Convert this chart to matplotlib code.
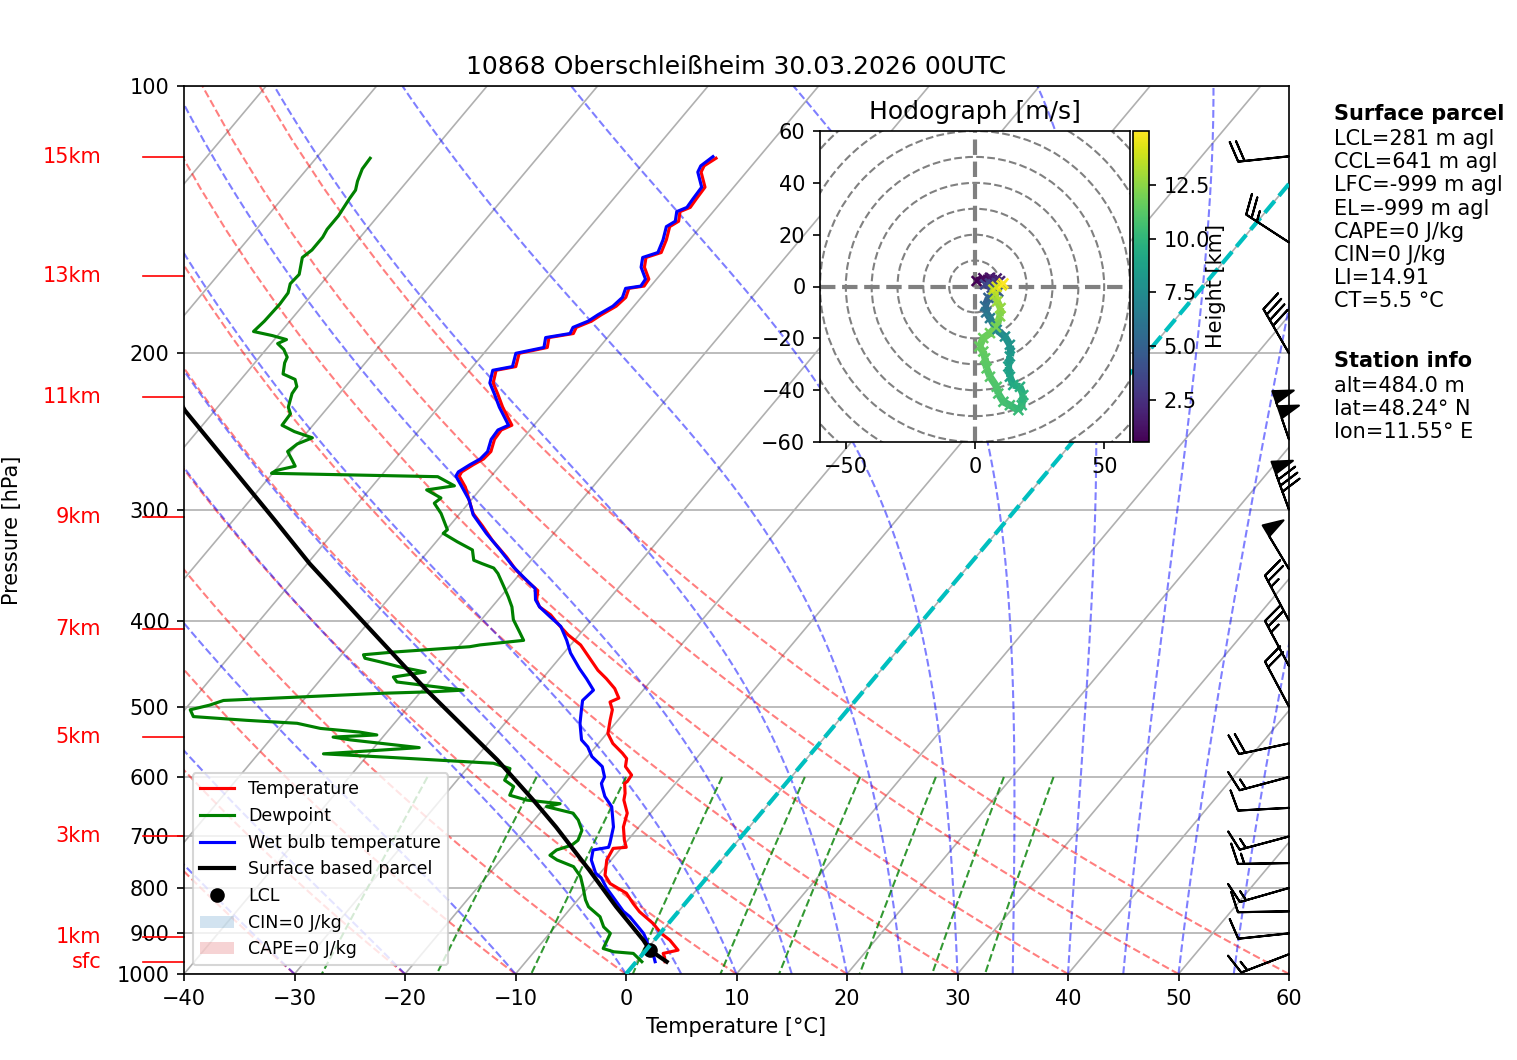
import numpy as np
import matplotlib
matplotlib.use("Agg")
import matplotlib.pyplot as plt
import matplotlib.transforms as mtransforms
from matplotlib.collections import LineCollection
from matplotlib.patches import Circle, Patch
from matplotlib.lines import Line2D
from matplotlib.ticker import NullLocator

# ---- sounding data ----
t_p = [968.6, 957, 948, 940, 916, 900, 877, 851, 833, 811, 791, 774, 744, 722, 720,
       707, 683, 659, 637, 626, 610, 607, 597, 584, 572, 564, 550, 536, 518, 504,
       494, 489, 477, 465, 455, 439, 426, 415, 405, 394, 386, 379, 370, 362, 351,
       339, 325, 313, 303, 294, 283, 275, 272, 267, 263, 258, 250, 244, 241, 230,
       222, 216, 209, 207, 200, 197, 192, 190, 187, 184, 181, 177, 173, 169, 168,
       165, 160, 156, 154, 149, 144, 142, 138.5, 137, 134, 130, 125, 123, 120.6]
t_T = [2.6, 2.2, 1.8, 2.9, 1.4, 0.1, -1.4, -3.5, -4.7, -6.1, -8.3, -9.4, -10.4, -10.7, -9.6,
       -10.3, -11.4, -12.1, -13.4, -13.8, -14.6, -14.5, -14.6, -15.8, -16.3, -17.1, -18.7, -19.9, -20.7, -21.3,
       -22.1, -21.6, -22.7, -24.2, -25.6, -27.5, -29.1, -31.0, -32.5, -34.1, -35.7, -36.5, -37.1, -38.6, -40.6,
       -42.5, -45.0, -47.0, -48.8, -50.0, -51.5, -52.9, -53.0, -52.5, -52.0, -51.9, -52.5, -52.6, -52.0, -54.2,
       -55.7, -56.9, -57.6, -56.1, -56.8, -54.7, -55.3, -53.4, -53.6, -52.7, -52.3, -51.6, -51.4, -51.8, -50.6,
       -50.7, -52.0, -52.6, -51.6, -52.1, -52.8, -52.4, -53.0, -52.4, -52.5, -52.6, -54.1, -54.3, -53.8]

d_p = [968.6, 948, 944, 936, 900, 885, 862, 840, 825, 798, 777, 757, 744, 735, 725,
       716, 707, 689, 671, 659, 648, 643, 637, 629, 615, 605, 594, 587, 579, 570,
       565, 556, 545, 541, 538, 534, 529, 522, 518, 513, 504, 498, 492, 483, 481,
       479, 469, 463, 457, 451, 445, 441, 437, 434, 428, 426, 421, 412, 399, 386,
       376, 366, 354, 349, 345, 342, 333, 326, 319, 316, 308, 303, 295, 291, 285,
       282, 275.4, 273, 271, 268, 264, 258, 253, 249, 245, 241, 234, 230, 222, 218,
       214, 211, 205, 202, 198, 195, 193, 191, 189, 184, 176, 171, 167, 163, 156,
       153, 148, 145, 140, 134, 131, 128, 124, 120.6]
d_T = [0.5, -0.9, -2.8, -4.0, -4.5, -5.6, -6.7, -8.5, -9.3, -10.5, -11.5, -12.9, -14.9, -15.9, -15.7,
       -14.7, -14.5, -14.9, -16.0, -17.0, -19.9, -18.9, -22.2, -24.1, -24.4, -25.7, -25.9, -26.1, -28.0, -38.1,
       -44.1, -35.9, -42.7, -44.5, -40.7, -42.5, -46.3, -48.8, -53.6, -58.7, -59.5, -58.1, -57.2, -43.6, -38.9,
       -36.3, -42.9, -43.6, -41.1, -43.8, -46.0, -47.6, -48.0, -45.5, -39.0, -38.2, -34.6, -35.6, -37.1, -38.2,
       -39.3, -40.5, -42.0, -42.8, -44.2, -45.2, -46.1, -48.1, -50.0, -49.9, -51.0, -51.7, -53.1, -52.9, -54.8,
       -52.6, -54.8, -70.1, -69.9, -68.5, -69.2, -70.3, -70.0, -69.1, -71.2, -72.8, -72.9, -73.6, -74.3, -74.4,
       -75.1, -76.6, -77.3, -77.5, -78.4, -79.4, -78.9, -80.5, -82.5, -82.3, -82.2, -82.3, -82.8, -82.7, -83.7,
       -83.4, -83.4, -83.6, -83.6, -83.9, -84.0, -84.5, -85.0, -85.1]

w_p = [968.6, 956, 940, 916, 900, 862, 850, 800, 780, 770, 744, 725, 720, 712, 683,
       648, 631, 615, 610, 600, 584, 569, 555, 545, 522, 504, 492, 479, 465, 453,
       435, 421, 406, 396, 386, 379, 368, 358, 348, 333, 319, 304, 292.5, 283, 275,
       272, 267, 263, 258, 250, 244, 241, 230, 222, 216, 209, 207, 200, 197, 192,
       190, 187, 184, 181, 177, 173, 169, 168, 165, 160, 156, 154, 149, 144, 142,
       138.5, 137, 134, 130, 125, 123, 120.1]
w_T = [1.7, 1.2, 0.3, -0.7, -1.5, -4.0, -5.0, -8.3, -9.5, -10.4, -11.8, -12.4, -11.2, -11.4, -12.3,
       -14.0, -15.4, -16.4, -16.7, -16.9, -17.9, -19.6, -20.7, -21.8, -23.2, -24.1, -24.7, -24.5, -26.0, -27.4,
       -29.4, -30.7, -32.3, -34.0, -35.7, -36.6, -37.5, -39.3, -41.1, -43.6, -46.1, -48.7, -50.2, -51.8, -53.2,
       -53.3, -52.8, -52.3, -52.2, -52.8, -52.9, -52.3, -54.5, -56.0, -57.2, -57.9, -56.4, -57.1, -55.0, -55.6,
       -53.7, -53.9, -53.0, -52.6, -51.9, -51.7, -52.1, -50.9, -51.0, -52.3, -52.9, -51.9, -52.4, -53.1, -52.7,
       -53.3, -52.7, -52.8, -52.9, -54.4, -54.6, -54.2]

par_p = [968.6, 940, 916, 840, 764, 683, 637, 574, 479, 406, 345, 308, 232, 200]
par_T = [2.75, 0.35, -1.0, -6.0, -11.2, -17.5, -21.6, -27.9, -39.6, -49.8, -59.8, -66.3, -82.7, -90.0]

lcl_p = 940
lcl_T = 0.35

# wind barbs (kt, direction wind comes from)
barb_p = [950, 900, 850, 800, 750, 700, 650, 600, 550, 500, 450, 400, 350, 300, 250, 200, 150, 120]
barb_dir = [249, 264, 269, 254, 269, 255, 267, 255, 258, 332, 332, 332, 329, 340, 341, 330, 303, 264]
barb_spd = [15, 10, 10, 15, 15, 15, 10, 15, 20, 20, 25, 25, 50, 80, 100, 40, 25, 20]

# hodograph (m/s) and height (km)
hodo_u = [0.6, 3.2, 5.8, 8.4, 9.7, 8.4, 5.8, 3.9, 6.5, 9.0, 5.2, 3.9, 4.3, 5.8, 8.4,
          11.6, 13.5, 13.5, 12.9, 13.5, 14.8, 17.4, 18.7, 18.1, 16.8, 13.5, 11.0, 9.0, 8.4, 5.8,
          4.5, 3.9, 3.2, 1.7, 3.2, 5.8, 8.1, 9.7, 9.9, 8.6, 7.7, 7.1, 8.4, 10.3, 11.0]
hodo_v = [2.1, 3.2, 3.4, 3.1, 2.1, 1.4, 1.2, 0.8, -0.5, -2.0, -4.4, -7.6, -10.0, -12.2, -16.7,
          -19.3, -22.5, -27.0, -30.9, -34.8, -38.0, -38.7, -41.9, -45.8, -47.7, -45.8, -44.5, -41.3, -38.7, -34.8,
          -31.6, -27.7, -25.1, -23.2, -19.9, -18.0, -15.7, -11.5, -8.3, -5.7, -3.1, -1.2, -0.1, 0.4, 1.2]
hodo_h = [0.55, 0.9, 1.3, 1.7, 2.1, 2.6, 3.1, 3.6, 4.1, 4.6, 5.1, 5.6, 6.1, 6.6, 7.2,
          7.8, 8.1, 8.4, 8.7, 9.0, 9.3, 9.6, 9.9, 10.1, 10.3, 10.5, 10.7, 10.9, 11.0, 11.2,
          11.3, 11.4, 11.5, 11.6, 11.7, 11.8, 12.0, 12.3, 12.6, 12.9, 13.3, 13.7, 14.1, 14.5, 15.0]

hgt_lbl = ["15km", "13km", "11km", "9km", "7km", "5km", "3km", "1km", "sfc"]
hgt_p = [120.2, 163.7, 224, 305.7, 409, 541, 699, 908, 969]

title = "10868 Oberschleißheim 30.03.2026 00UTC"
parcel_info = ["LCL=281 m agl", "CCL=641 m agl", "LFC=-999 m agl", "EL=-999 m agl",
               "CAPE=0 J/kg", "CIN=0 J/kg", "LI=14.91", "CT=5.5 °C"]
station_info = ["alt=484.0 m", "lat=48.24° N", "lon=11.55° E"]

# ---- figure / skew setup ----
W, H = 1517, 1060
fig = plt.figure(figsize=(W / 150, H / 150), dpi=150)
rect = [184 / W, 1 - 974 / H, 1105 / W, 888 / H]
ax = fig.add_axes(rect)
# isotherms tilted 40 deg from vertical
K = np.tan(np.radians(40)) * (rect[3] * H) / (rect[2] * W) * 100.0


def skx(t, p):
    return np.asarray(t, dtype=float) + K * np.log10(1000.0 / np.asarray(p, dtype=float))


ax.set_yscale("log")
ax.set_ylim(1000, 100)
ax.set_xlim(-40, 60)
ax.set_yticks(np.arange(100, 1001, 100))
ax.set_yticklabels([str(v) for v in range(100, 1001, 100)])
ax.yaxis.set_minor_locator(NullLocator())
ax.set_xticks(np.arange(-40, 61, 10))
ax.yaxis.grid(True, color="#b0b0b0", lw=0.8)
ax.set_axisbelow(True)

pp = np.linspace(1000, 100, 60)
for t in range(-100, 61, 10):
    ax.plot(skx([t, t], [1000, 100]), [1000, 100], color="#b0b0b0", lw=0.8, zorder=0.5)

# dry adiabats
for t0 in np.arange(-40, 61, 10):
    tt = (t0 + 273.15) * (pp / 1000.0) ** 0.2857 - 273.15
    ax.plot(skx(tt, pp), pp, color="r", ls="--", lw=1, alpha=0.5, zorder=1)

# moist adiabats (pseudo-adiabatic lapse rate, RK4)
Rd, Cp, Lv, eps = 287.04, 1005.7, 2.501e6, 0.622


def dtdp(T, p):
    tc = T - 273.15
    es = 6.112 * np.exp(17.67 * tc / (tc + 243.5))
    rs = eps * es / (p - es)
    return (Rd * T + Lv * rs) / (p * (Cp + Lv * Lv * rs * eps / (Rd * T * T)))


pm = np.linspace(1000, 100, 300)
t0m = np.concatenate((np.arange(-40, 0, 10), np.arange(0, 61, 5))).astype(float)
T = t0m + 273.15
prof = [T.copy()]
for i in range(len(pm) - 1):
    p0, h = pm[i], pm[i + 1] - pm[i]
    k1 = dtdp(T, p0)
    k2 = dtdp(T + h / 2 * k1, p0 + h / 2)
    k3 = dtdp(T + h / 2 * k2, p0 + h / 2)
    k4 = dtdp(T + h * k3, p0 + h)
    T = T + h * (k1 + 2 * k2 + 2 * k3 + k4) / 6
    prof.append(T.copy())
prof = np.array(prof) - 273.15
for j in range(len(t0m)):
    ax.plot(skx(prof[:, j], pm), pm, color="b", ls="--", lw=1, alpha=0.5, zorder=1)

# mixing ratio lines
pw = np.linspace(600, 1000, 50)
for w in [0.0004, 0.001, 0.002, 0.004, 0.007, 0.01, 0.016, 0.024, 0.032]:
    e = w * pw / (eps + w)
    le = np.log(e / 6.112)
    td = 243.5 * le / (17.67 - le)
    ax.plot(skx(td, pw), pw, color="g", ls="--", lw=1, alpha=0.8, zorder=1)

# ---- profiles ----
ax.plot(skx(t_T, t_p), t_p, color="r", lw=1.5, zorder=3)
ax.plot(skx(d_T, d_p), d_p, color="g", lw=1.5, zorder=3)
ax.plot(skx(w_T, w_p), w_p, color="b", lw=1.5, zorder=3)
ax.plot(skx(par_T, par_p), par_p, color="k", lw=2, zorder=3)
ax.plot(skx([lcl_T], [lcl_p]), [lcl_p], "ko", markersize=6, zorder=3)
ax.plot(skx([0, 0], [1000, 100]), [1000, 100], color="c", ls="--", lw=2, zorder=4)

# ---- wind barbs at right edge ----
trans = mtransforms.blended_transform_factory(ax.transAxes, ax.transData)
rad = np.radians(barb_dir)
bu = -np.array(barb_spd) * np.sin(rad)
bv = -np.array(barb_spd) * np.cos(rad)
ax.barbs(np.ones(len(barb_p)), barb_p, bu, bv, transform=trans, length=7, clip_on=False, zorder=5)

# ---- height labels ----
for lbl, p in zip(hgt_lbl, hgt_p):
    ax.text(-0.075, p, lbl, transform=trans, color="r", ha="right", va="center", fontsize=10)
    ax.plot([-0.037, 0], [p, p], transform=trans, color="r", lw=0.8, clip_on=False)

ax.set_title(title)
ax.set_xlabel("Temperature [°C]")
ax.set_ylabel("Pressure [hPa]")
ax.yaxis.set_label_coords(-0.147, 0.5)

handles = [
    Line2D([], [], color="r", lw=1.5, label="Temperature"),
    Line2D([], [], color="g", lw=1.5, label="Dewpoint"),
    Line2D([], [], color="b", lw=1.5, label="Wet bulb temperature"),
    Line2D([], [], color="k", lw=2, label="Surface based parcel"),
    Line2D([], [], color="k", marker="o", ls="none", markersize=6, label="LCL"),
    Patch(facecolor="tab:blue", alpha=0.2, label="CIN=0 J/kg"),
    Patch(facecolor="tab:red", alpha=0.2, label="CAPE=0 J/kg"),
]
ax.legend(handles=handles, loc="lower left", fontsize="small")

# ---- hodograph inset ----
hax = fig.add_axes([820 / W, 1 - 442 / H, 310 / W, 311 / H])
hax.set_xlim(-60, 60)
hax.set_ylim(-60, 60)
for r in range(10, 90, 10):
    hax.add_patch(Circle((0, 0), r, fill=False, color="grey", ls="--", lw=1))
hax.axhline(0, color="grey", ls="--", lw=2)
hax.axvline(0, color="grey", ls="--", lw=2)
pts = np.column_stack([hodo_u, hodo_v]).reshape(-1, 1, 2)
segs = np.concatenate([pts[:-1], pts[1:]], axis=1)
norm = plt.Normalize(min(hodo_h), max(hodo_h))
lc = LineCollection(segs, cmap="viridis", norm=norm, lw=3.5)
lc.set_array(np.array(hodo_h[:-1]))
hax.add_collection(lc)
hax.scatter(hodo_u, hodo_v, c=hodo_h, cmap="viridis", norm=norm, marker="x", s=22, lw=1.2, zorder=3)
hax.set_xticks([-50, 0, 50])
hax.set_yticks(np.arange(-60, 61, 20))
hax.set_title("Hodograph [m/s]")
cax = fig.add_axes([1133 / W, 1 - 442 / H, 16 / W, 311 / H])
cb = fig.colorbar(lc, cax=cax)
cb.set_ticks([2.5, 5, 7.5, 10, 12.5])
cb.set_label("Height [km]", labelpad=-2)

# ---- text panel ----
tx = 1334 / W
fig.text(tx, 1 - 104 / H, "Surface parcel", fontweight="bold", va="top", fontsize=10)
fig.text(tx, 1 - 129 / H, "\n".join(parcel_info), va="top", fontsize=10)
fig.text(tx, 1 - 351 / H, "Station info", fontweight="bold", va="top", fontsize=10)
fig.text(tx, 1 - 376 / H, "\n".join(station_info), va="top", fontsize=10)

fig.savefig("out.png", dpi=150)
